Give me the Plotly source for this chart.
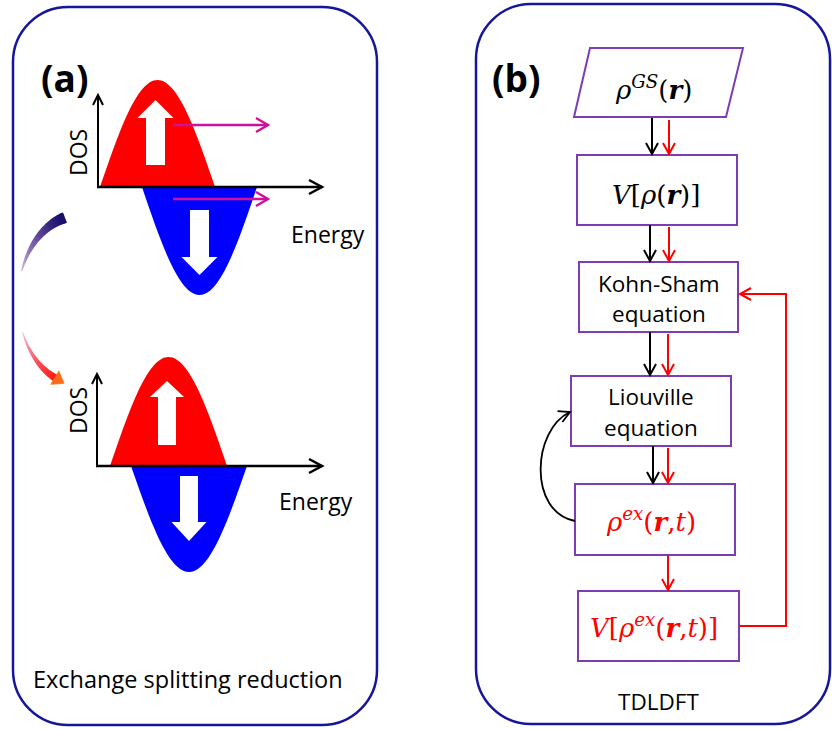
import numpy as np
import plotly.graph_objects as go

W, H = 832, 729

# ---------------- text content ----------------
panel_tags = ["(a)", "(b)"]
dos_label = "DOS"
energy_label = "Energy"
caption_left = "Exchange splitting reduction"
caption_right = "TDLDFT"
flow_lines = [
    ["<i>ρ</i><sup><i>GS</i></sup>(<b><i>r</i></b>)"],
    ["<i>V</i>[<i>ρ</i>(<b><i>r</i></b>)]"],
    ["Kohn-Sham", "equation"],
    ["Liouville", "equation"],
    ["<i>ρ</i><sup><i>ex</i></sup>(<b><i>r</i></b>,<i>t</i>)"],
    ["<i>V</i>[<i>ρ</i><sup><i>ex</i></sup>(<b><i>r</i></b>,<i>t</i>)]"],
]
flow_is_math = [True, True, False, False, True, True]
flow_text_color = ["black", "black", "black", "black", "red", "red"]

# ---------------- geometry (pixel-like data coords) ----------------
PANEL_COL = "#16169a"
BOX_COL = "#7d3cb5"
RED = "#ff0000"
BLUE = "#0000ff"
MAG = "#d0109a"
SANS = "Open Sans"
SERIF = "DejaVu Serif"

shapes = []
annots = []


def add_path(d, color=None, width=0, fill=None):
    s = dict(type="path", path=d, xref="x", yref="y", layer="above")
    s["line"] = dict(color=color if color else "rgba(0,0,0,0)", width=width)
    if fill:
        s["fillcolor"] = fill
    shapes.append(s)


def rrect(x0, y0, x1, y1, r):
    k = 0.552 * r
    return (f"M {x0+r},{y0} L {x1-r},{y0} C {x1-r+k},{y0} {x1},{y0+r-k} {x1},{y0+r} "
            f"L {x1},{y1-r} C {x1},{y1-r+k} {x1-r+k},{y1} {x1-r},{y1} "
            f"L {x0+r},{y1} C {x0+r-k},{y1} {x0},{y1-r+k} {x0},{y1-r} "
            f"L {x0},{y0+r} C {x0},{y0+r-k} {x0+r-k},{y0} {x0+r},{y0} Z")


def vhead(tx, ty, ux, uy, L=10, hw=6):
    n = np.hypot(ux, uy)
    ux, uy = ux / n, uy / n
    bx, by = tx - L * ux, ty - L * uy
    px, py = -uy, ux
    return f"M {bx+hw*px},{by+hw*py} L {tx},{ty} L {bx-hw*px},{by-hw*py}"


def arrow(x0, y0, x1, y1, color, width=1.6, L=11, hw=6):
    add_path(f"M {x0},{y0} L {x1},{y1}", color, width)
    add_path(vhead(x1, y1, x1 - x0, y1 - y0, L, hw), color, width)


def hump(x0, w, yb, h, direction):
    s = direction
    return (f"M {x0},{yb} C {x0+0.163*w},{yb+s*0.512*h} {x0+0.319*w},{yb+s*h} {x0+0.5*w},{yb+s*h} "
            f"C {x0+0.681*w},{yb+s*h} {x0+0.837*w},{yb+s*0.512*h} {x0+w},{yb} Z")


def block_arrow(xc, shaft_w, head_w, y_tail, y_headbase, y_tip):
    a = shaft_w / 2
    b = head_w / 2
    return (f"M {xc-a},{y_tail} L {xc-a},{y_headbase} L {xc-b},{y_headbase} L {xc},{y_tip} "
            f"L {xc+b},{y_headbase} L {xc+a},{y_headbase} L {xc+a},{y_tail} Z")


# ---- panels ----
add_path(rrect(13, 7, 377, 725, 55), PANEL_COL, 2.5)
add_path(rrect(476, 4, 830, 724, 55), PANEL_COL, 2.5)

# ---- DOS diagrams ----
dos_sets = [
    dict(ox=98, oy=187, ytop=95, xend=322,
         red=(100, 115, 107), blue=(142, 115, 108),
         up=(155.5, 19, 36, 165, 118, 100), down=(199.5, 19, 36, 210, 257, 275),
         mag=[(173, 125, 268), (173, 199, 268)],
         dos_xy=(78, 153), en_xy=(328, 234)),
    dict(ox=97, oy=466, ytop=374, xend=322,
         red=(110, 117, 109), blue=(131, 116, 106),
         up=(167, 18, 34, 445, 397, 381), down=(189, 18, 35, 476, 522, 541),
         mag=[],
         dos_xy=(78, 411), en_xy=(316, 501)),
]
for d in dos_sets:
    x0, w, h = d["red"]
    add_path(hump(x0, w, d["oy"], h, -1), None, 0, RED)
    x0, w, h = d["blue"]
    add_path(hump(x0, w, d["oy"], h, 1), None, 0, BLUE)
    add_path(block_arrow(*d["up"]), None, 0, "white")
    add_path(block_arrow(*d["down"]), None, 0, "white")
    arrow(d["ox"], d["oy"], d["ox"], d["ytop"], "black", 2, 10, 5)
    arrow(d["ox"] - 1, d["oy"], d["xend"], d["oy"], "black", 2.5, 13, 7)
    for (mx0, my, mx1) in d["mag"]:
        arrow(mx0, my, mx1, my, MAG, 2.4, 12, 7)
    annots.append(dict(x=d["dos_xy"][0], y=d["dos_xy"][1], text=dos_label, textangle=-90,
                       font=dict(family=SANS, size=23, color="black")))
    annots.append(dict(x=d["en_xy"][0], y=d["en_xy"][1], text=energy_label,
                       font=dict(family=SANS, size=23, color="black")))

# ---- curved gradient arrow (left) ----
cx, cy, rx, ry = 80, 300, 62, 85


def ell(t):
    return np.array([cx + rx * np.cos(t), cy + ry * np.sin(t)])


def band_solid(t0, t1, w0, w1, c0, c1, a0, a1, n=24):
    ts = np.linspace(np.radians(t0), np.radians(t1), n + 1)
    ws = np.linspace(w0, w1, n + 1)
    for i in range(n):
        f = i / max(n - 1, 1)
        col = tuple(int(c0[k] + (c1[k] - c0[k]) * f) for k in range(3))
        a = a0 + (a1 - a0) * f
        pA, pB = ell(ts[i]), ell(ts[min(i + 2, n)])
        c = f"rgba({col[0]},{col[1]},{col[2]},{a:.2f})"
        add_path(f"M {pA[0]:.2f},{pA[1]:.2f} L {pB[0]:.2f},{pB[1]:.2f}", c, max(ws[i], 0.8))


band_solid(256, 200, 11, 1, (22, 15, 105), (110, 60, 165), 1.0, 0.2, n=40)
band_solid(158, 113, 1, 7.5, (235, 80, 130), (255, 30, 15), 0.2, 1.0, n=40)
tE = np.radians(114)
pE = ell(tE)
tang = np.array([rx * np.sin(tE), -ry * np.cos(tE)])
tang = tang / np.hypot(*tang)
nrm = np.array([-tang[1], tang[0]])
tip = pE + tang * 11
b1 = pE + nrm * 8
b2 = pE - nrm * 8
add_path(f"M {b1[0]:.2f},{b1[1]:.2f} L {tip[0]:.2f},{tip[1]:.2f} L {b2[0]:.2f},{b2[1]:.2f} Z",
         "#ff6a1a", 0.5, "#ff6a1a")

# ---- flowchart ----
boxes = [
    None,
    (577, 155, 737, 225),
    (579, 262, 738, 332),
    (571, 376, 731, 446),
    (575, 484, 735, 555),
    (578, 591, 739, 661),
]
add_path("M 590,48 L 743,48 L 726,117 L 574,117 Z", BOX_COL, 2, "white")
for b in boxes[1:]:
    x0, y0, x1, y1 = b
    add_path(f"M {x0},{y0} L {x1},{y0} L {x1},{y1} L {x0},{y1} Z", BOX_COL, 2, "white")

links = [
    (652, 669, 118, 155),
    (650, 669, 225, 262),
    (650, 668, 332, 376),
    (653, 668, 446, 484),
]
for bx, rxl, ya, yb in links:
    arrow(bx, ya, bx, yb - 1, "black", 2, 11, 6)
    arrow(rxl, ya + 2, rxl, yb - 1, RED, 2, 11, 6)
arrow(668, 555, 668, 590, RED, 2, 11, 6)

add_path("M 739,626 L 786,626 L 786,294 L 740,294", RED, 2)
add_path(vhead(740, 294, -1, 0, 11, 6), RED, 2)
add_path("M 575,521 C 528,512 532,430 570,412", "black", 1.8)
add_path(vhead(570, 412, 1, -0.45, 11, 6), "black", 1.8)

text_pos = [
    [(653, 88)],
    [(656, 195)],
    [(659, 283), (659, 313)],
    [(651, 396), (651, 427)],
    [(651, 520)],
    [(654, 626)],
]
for i, lines in enumerate(flow_lines):
    for (tx, ty), t in zip(text_pos[i], lines):
        if flow_is_math[i]:
            f = dict(family=SERIF, size=26, color=flow_text_color[i])
        else:
            f = dict(family=SANS, size=22.5, color=flow_text_color[i])
        annots.append(dict(x=tx, y=ty, text=t, font=f))

annots.append(dict(x=64, y=77, text=f"<b>{panel_tags[0]}</b>", font=dict(family=SANS, size=37, color="black")))
annots.append(dict(x=516, y=77, text=f"<b>{panel_tags[1]}</b>", font=dict(family=SANS, size=37, color="black")))
annots.append(dict(x=188, y=679, text=caption_left, font=dict(family=SANS, size=23.5, color="black")))
annots.append(dict(x=658, y=701, text=caption_right, font=dict(family=SANS, size=22.5, color="black")))

for a in annots:
    a.update(xref="x", yref="y", showarrow=False, xanchor="center", yanchor="middle")

fig = go.Figure()
fig.add_trace(go.Scatter(x=[0, W], y=[0, H], mode="markers", marker=dict(opacity=0), hoverinfo="skip",
                         showlegend=False))
fig.update_layout(
    width=W, height=H, margin=dict(l=0, r=0, t=0, b=0),
    paper_bgcolor="white", plot_bgcolor="white",
    xaxis=dict(range=[0, W], visible=False, fixedrange=True),
    yaxis=dict(range=[H, 0], visible=False, fixedrange=True),
    shapes=shapes, annotations=annots, showlegend=False,
)
fig.write_html("out.html", config={"displayModeBar": False})
